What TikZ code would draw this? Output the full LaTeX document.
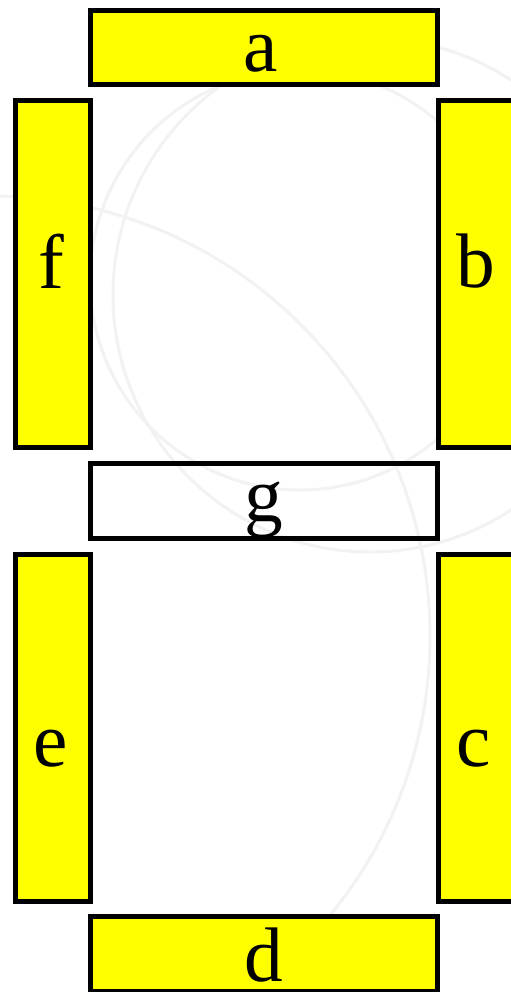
\documentclass[tikz,border=0pt]{standalone}
\usepackage{fontspec}
\setmainfont{Liberation Serif}
\definecolor{segyellow}{RGB}{255,255,0}

\begin{document}
\begin{tikzpicture}[x=0.02cm,y=-0.02cm,
    seg/.style={draw,line width=0.1cm,fill=segyellow,inner sep=0pt},
    segoff/.style={draw,line width=0.1cm,inner sep=0pt},
    hseg/.style={minimum width=6.96cm,minimum height=1.49cm},
    vseg/.style={minimum width=1.51cm,minimum height=6.95cm},
    lbl/.style={anchor=base,inner sep=0pt,font=\fontsize{44}{48}\selectfont}]
    \useasboundingbox (0,0) rectangle (511,992);
    \clip (0,0) rectangle (511,992);
    \fill[white] (0,0) rectangle (511,992);

    % faint watermark behind the segments
    \draw[black!5,line width=0.06cm] (300,280) circle (210);
    \draw[black!5,line width=0.06cm] (-10,636) circle (440);
    \draw[black!5,line width=0.06cm] (370,295) circle (257);

    \node[seg,hseg] (a) at (264,47.5) {};
    \node[seg,vseg] (f) at (52.75,274.25) {};
    \node[seg,vseg] (b) at (475.75,274.25) {};
    \node[segoff,hseg] (g) at (264,501) {};
    \node[seg,vseg] (e) at (52.75,728.25) {};
    \node[seg,vseg] (c) at (475.75,728.25) {};
    \node[seg,hseg] (d) at (264,953.75) {};

    \node[lbl] (la) at (261,71) {a};
    \node[lbl] (lf) at (51,288) {f};
    \node[lbl] (lb) at (476,287) {b};
    \node[lbl] (lg) at (264,521) {g};
    \node[lbl] (le) at (51,766) {e};
    \node[lbl] (lc) at (474,766) {c};
    \node[lbl] (ld) at (264,981) {d};
\end{tikzpicture}
\end{document}
